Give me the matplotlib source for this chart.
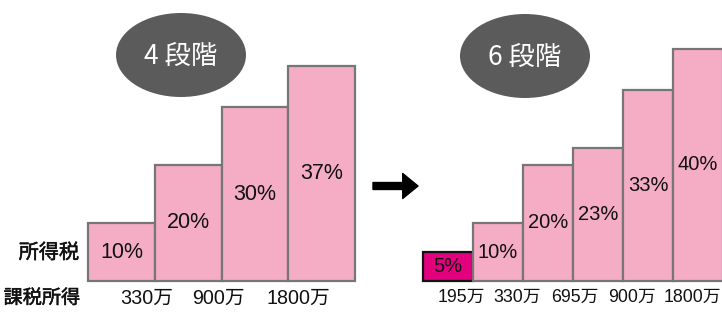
import matplotlib
matplotlib.use("Agg")
import matplotlib.pyplot as plt
import matplotlib.patheffects as pe
from matplotlib.patches import Ellipse
from matplotlib import font_manager
import numpy as np

plt.rcParams['font.family'] = ['Liberation Sans', 'Noto Sans CJK JP']

# ---- data ----
old_rates = [10, 20, 30, 37]
old_thresholds = ["330万", "900万", "1800万"]
new_rates = [5, 10, 20, 23, 33, 40]
new_thresholds = ["195万", "330万", "695万", "900万", "1800万"]
old_title = "4 段階"
new_title = "6 段階"
row_label_tax = "所得税"
row_label_income = "課税所得"

# ---- style ----
W, H = 722, 313
PINK = "#F5ADC6"
PINK_EDGE = "#767676"
MAGENTA = "#E3007F"
ELLIPSE = "#5B5B5B"
px_per_pct = 5.8
y_max = 42

names = {f.name for f in font_manager.fontManager.ttflist}
narrow = "Liberation Sans Narrow" if "Liberation Sans Narrow" in names else "Liberation Sans"

fig = plt.figure(figsize=(W / 100, H / 100), dpi=100)
fig.patch.set_facecolor("white")

def fx(px):
    return px / W

def fy(py_top):
    return 1 - py_top / H

base_px = 281
ax_h = y_max * px_per_pct / H

def make_panel(left_px, bar_w_px, rates, thresholds, label_pos,
               highlight_first, pct_size, tick_size, tick_family):
    n = len(rates)
    ax = fig.add_axes([fx(left_px), fy(base_px), n * bar_w_px / W, ax_h])
    ax.set_xlim(0, n)
    ax.set_ylim(0, y_max)
    x = np.arange(n)
    colors = [PINK] * n
    edges = [PINK_EDGE] * n
    if highlight_first:
        colors[0] = MAGENTA
        edges[0] = "#111111"
    bars = ax.bar(x, rates, width=1.0, align="edge", color=colors,
                  edgecolor=edges, linewidth=1.6, clip_on=False)
    for i, (b, r) in enumerate(zip(bars, rates)):
        ax.text(i + 0.5, r / 2, f"{r}%", ha="center", va="center",
                fontsize=pct_size, color="#111111")
    ax.set_xticks(label_pos)
    ax.set_xticklabels(thresholds, fontsize=tick_size, color="#111111",
                       family=tick_family)
    ax.tick_params(axis="x", length=0, pad=5.5)
    ax.set_yticks([])
    for s in ax.spines.values():
        s.set_visible(False)
    ax.patch.set_alpha(0)
    return ax

ax_old = make_panel(88, 66.75, old_rates, old_thresholds,
                    [0.88, 1.95, 3.15], False, 15.5, 14.2,
                    ["Liberation Sans", "Noto Sans CJK JP"])
ax_new = make_panel(423, 50, new_rates, new_thresholds,
                    [0.76, 1.88, 3.04, 4.18, 5.38], True, 14.5,
                    14.2 if narrow != "Liberation Sans" else 12.8,
                    [narrow, "Noto Sans CJK JP"])

# row labels
medium = [pe.withStroke(linewidth=0.35, foreground="#111111")]
fig.text(fx(79), fy(253), row_label_tax, ha="right", va="center",
         fontsize=14.5, color="#111111", family="Noto Sans CJK JP",
         path_effects=medium)
fig.text(fx(80), fy(298), row_label_income, ha="right", va="center",
         fontsize=13.8, color="#111111", family="Noto Sans CJK JP",
         path_effects=medium)

# title ellipses
for cx, cy, t in [(181, 55, old_title), (525, 56, new_title)]:
    e = Ellipse((fx(cx), fy(cy)), 130 / W, 84 / H, transform=fig.transFigure,
                facecolor=ELLIPSE, edgecolor="none")
    fig.patches.append(e)
    fig.text(fx(cx), fy(cy + 1), t, ha="center", va="center", fontsize=19,
             color="white", family="Noto Sans CJK JP")

# arrow
fig.add_artist(matplotlib.patches.FancyArrowPatch(
    (fx(373), fy(186)), (fx(418), fy(186)), transform=fig.transFigure,
    arrowstyle="simple,head_length=11,head_width=18,tail_width=5",
    mutation_scale=1, color="black", shrinkA=0, shrinkB=0))

fig.savefig("out.png", dpi=100)
